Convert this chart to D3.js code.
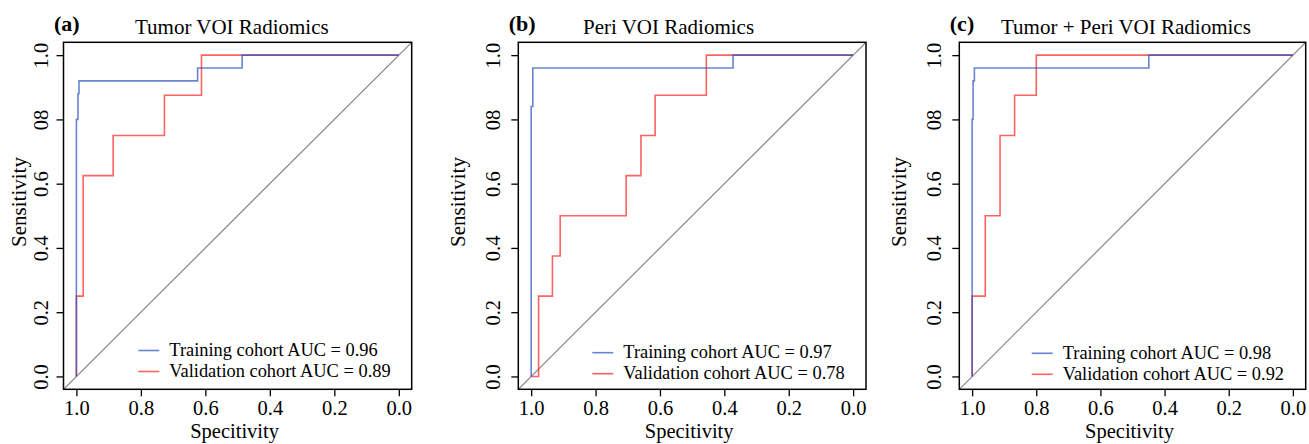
<!DOCTYPE html>
<html>
<head>
<meta charset="utf-8">
<script src="https://cdn.jsdelivr.net/npm/d3@7"></script>
<style>
  body { margin: 0; background: #fff; }
  svg text { font-family: "Liberation Serif", "Times New Roman", serif; fill: #000; }
</style>
</head>
<body>
<svg id="chart" width="1309" height="444"></svg>
<script>
// ---- data (ROC corner points, specificity / sensitivity) ----
const panelLabels = ['(a)', '(b)', '(c)'];
const panelTitles = ['Tumor VOI Radiomics', 'Peri VOI Radiomics', 'Tumor + Peri VOI Radiomics'];

const tumorTrainSpec = [1, 1, 0.995, 0.992, 0.624, 0.486, 0];
const tumorTrainSens = [0, 0.80, 0.88, 0.92, 0.96, 1, 1];
const tumorValidSpec = [1, 1, 0.979, 0.886, 0.727, 0.612, 0];
const tumorValidSens = [0, 0.25, 0.625, 0.75, 0.875, 1, 1];

const periTrainSpec = [1, 1, 0.995, 0.373, 0];
const periTrainSens = [0, 0.84, 0.96, 1, 1];
const periValidSpec = [1, 0.977, 0.934, 0.910, 0.705, 0.659, 0.615, 0.456, 0];
const periValidSens = [0, 0.25, 0.375, 0.5, 0.625, 0.75, 0.875, 1, 1];

const combTrainSpec = [1, 1, 0.997, 0.993, 0.449, 0];
const combTrainSens = [0, 0.80, 0.92, 0.96, 1, 1];
const combValidSpec = [1, 1, 0.959, 0.913, 0.8675, 0.80, 0];
const combValidSens = [0, 0.25, 0.5, 0.75, 0.875, 1, 1];

const trainAUC = ['0.96', '0.97', '0.98'];
const validAUC = ['0.89', '0.78', '0.92'];

const tickValues = [0, 0.2, 0.4, 0.6, 0.8, 1.0];
const yTickLabels = ['0.0', '0.2', '0.4', '0.6', '08', '1.0'];
const xTickLabels = ['0.0', '0.2', '0.4', '0.6', '0.8', '1.0'];

// ---- layout ----
const boxLeft = [63.5, 518.3, 959.3];
const boxRight = [411.7, 866, 1305.7];
const boxTop = 42.3, boxBottom = 389.3;
const titleX = [135, 583, 1001];
const ylabX = [26, 465, 906];
const yTickOff = [-15.5, -18, -18];
const legendX = [169.3, 623.3, 1062.7];
const legendY = [350.5, 352.7, 353.3];

const blue = '#2850c0', red = '#ff2020';

const svg = d3.select('#chart');

const curves = [
  [tumorTrainSpec, tumorTrainSens, tumorValidSpec, tumorValidSens],
  [periTrainSpec, periTrainSens, periValidSpec, periValidSens],
  [combTrainSpec, combTrainSens, combValidSpec, combValidSens]
];

curves.forEach((c, p) => {
  const w = boxRight[p] - boxLeft[p];
  const h = boxBottom - boxTop;
  const g = svg.append('g').attr('transform', `translate(${boxLeft[p]}, ${boxTop})`);

  // R style 4% padding on each side, specificity reversed
  const x = d3.scaleLinear().domain([1.04, -0.04]).range([0, w]);
  const y = d3.scaleLinear().domain([-0.04, 1.04]).range([h, 0]);

  // diagonal
  g.append('line')
    .attr('x1', x(1.04)).attr('y1', y(-0.04))
    .attr('x2', x(-0.04)).attr('y2', y(1.04))
    .attr('stroke', '#858585').attr('stroke-width', 1.2);

  const line = d3.line().x(d => x(d[0])).y(d => y(d[1])).curve(d3.curveStepAfter);

  const validPts = c[2].map((s, i) => [s, c[3][i]]);
  const trainPts = c[0].map((s, i) => [s, c[1][i]]);

  g.append('path').datum(validPts)
    .attr('d', line).attr('fill', 'none')
    .attr('stroke', red).attr('stroke-opacity', 0.7).attr('stroke-width', 1.6);
  g.append('path').datum(trainPts)
    .attr('d', line).attr('fill', 'none')
    .attr('stroke', blue).attr('stroke-opacity', 0.7).attr('stroke-width', 1.6);

  // box
  g.append('rect').attr('width', w).attr('height', h)
    .attr('fill', 'none').attr('stroke', '#000').attr('stroke-width', 1.5);

  // x axis
  const xa = g.append('g').attr('transform', `translate(0, ${h})`)
    .call(d3.axisBottom(x).tickValues(tickValues).tickSize(7).tickSizeOuter(0)
      .tickFormat((d, i) => xTickLabels[i]));
  xa.select('.domain').remove();
  xa.selectAll('line').attr('stroke', '#000').attr('stroke-width', 1.3);
  xa.selectAll('text').attr('y', 25.5).attr('dy', null)
    .style('font-family', '"Liberation Serif", serif').style('font-size', '20.5px').attr('fill', '#000');

  // y axis
  const ya = g.append('g')
    .call(d3.axisLeft(y).tickValues(tickValues).tickSize(7).tickSizeOuter(0)
      .tickFormat((d, i) => yTickLabels[i]));
  ya.select('.domain').remove();
  ya.selectAll('line').attr('stroke', '#000').attr('stroke-width', 1.3);
  ya.selectAll('text')
    .attr('x', 0).attr('y', yTickOff[p]).attr('dy', null)
    .attr('transform', 'rotate(-90)')
    .attr('text-anchor', 'middle')
    .style('font-family', '"Liberation Serif", serif').style('font-size', '20.5px').attr('fill', '#000');

  // axis titles
  svg.append('text')
    .attr('x', boxLeft[p] + w / 2 - 3).attr('y', 437.5)
    .attr('text-anchor', 'middle').style('font-size', '20.5px')
    .text('Specitivity');
  svg.append('text')
    .attr('transform', `translate(${ylabX[p]}, 202) rotate(-90)`)
    .attr('text-anchor', 'middle').style('font-size', '21px')
    .text('Sensitivity');

  // panel label and title
  svg.append('text')
    .attr('x', boxLeft[p] - 9.5).attr('y', 31)
    .style('font-size', '22px').style('font-weight', 'bold')
    .text(panelLabels[p]);
  svg.append('text')
    .attr('x', titleX[p]).attr('y', 34)
    .style('font-size', '21px')
    .text(panelTitles[p]);

  // legend
  const leg = [['Training cohort AUC = ' + trainAUC[p], blue],
               ['Validation cohort AUC = ' + validAUC[p], red]];
  leg.forEach((l, i) => {
    const ly = legendY[p] + i * 21;
    svg.append('line')
      .attr('x1', legendX[p] - 31).attr('x2', legendX[p] - 10)
      .attr('y1', ly).attr('y2', ly)
      .attr('stroke', l[1]).attr('stroke-opacity', 0.7).attr('stroke-width', 1.6);
    svg.append('text')
      .attr('x', legendX[p]).attr('y', ly + 5.5)
      .style('font-size', '18.4px')
      .text(l[0]);
  });
});
</script>
</body>
</html>
